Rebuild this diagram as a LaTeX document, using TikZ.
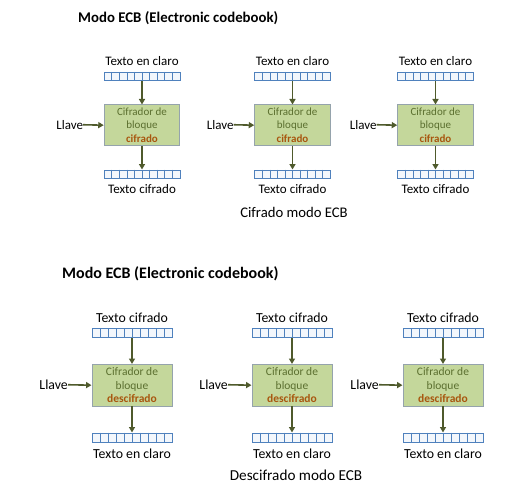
\documentclass[tikz,border=0pt]{standalone}
\usepackage{fontspec}
\setmainfont{Carlito}
\usetikzlibrary{arrows.meta}
\definecolor{boxfill}{HTML}{C4D79B}
\definecolor{boxline}{HTML}{95A3AC}
\definecolor{boxtext}{HTML}{5B6F2F}
\definecolor{modetext}{HTML}{A8560E}
\definecolor{arrowcol}{HTML}{4F5A2C}
\definecolor{regline}{HTML}{4F81BD}
\definecolor{regfill}{HTML}{F3F7FC}
\tikzset{
  lbl/.style={inner sep=0pt, text=black},
  reg/.style={draw=regline, fill=regfill, line width=0.6pt, inner sep=0pt},
  regdiv/.style={draw=regline, line width=0.6pt},
  cbox/.style={draw=boxline, fill=boxfill, line width=0.9pt, inner sep=0pt, align=center, text=boxtext},
  arr/.style={draw=arrowcol, line width=1.6pt, -{Triangle[length=5.5pt,width=6pt]}},
}
\newcommand{\ecbunit}[5]{%
  \pgfmathsetmacro{\ecbw}{2*\ecbhw}%
  \pgfmathsetmacro{\ecbbh}{\ecbyb-\ecbya}%
  \pgfmathsetmacro{\ecbbc}{(\ecbya+\ecbyb)/2}%
  \pgfmathsetmacro{\ecbkx}{#2-\ecbhw-\ecbgap}%
  \node[lbl,font=\ecblblfont] (#1tt) at (#2,\ecbytt) {#3};
  \node[reg,minimum width=\ecbw pt,minimum height=\ecbrh pt,anchor=north] (#1ra) at (#2,\ecbyra) {};
  \foreach \i in {1,...,9}{\draw[regdiv] (#2-\ecbhw+\i*\ecbw/10,\ecbyra) -- ++(0,\ecbrh);}
  \node[cbox,font=\ecbboxfont,minimum width=\ecbw pt,minimum height=\ecbbh pt,anchor=north] (#1b) at (#2,\ecbya) {Cifrador de\\bloque\\\textbf{\color{modetext}#5}};
  \node[reg,minimum width=\ecbw pt,minimum height=\ecbrh pt,anchor=north] (#1rb) at (#2,\ecbyrb) {};
  \foreach \i in {1,...,9}{\draw[regdiv] (#2-\ecbhw+\i*\ecbw/10,\ecbyrb) -- ++(0,\ecbrh);}
  \node[lbl,font=\ecblblfont] (#1bt) at (#2,\ecbybt) {#4};
  \node[lbl,font=\ecblblfont,anchor=east] (#1k) at (\ecbkx,\ecbbc) {Llave};
  \draw[arr] (#1ra.south) -- (#1b.north);
  \draw[arr] (#1b.south) -- (#1rb.north);
  \draw[arr] (#1k.east) -- (#1b.west);
}
\begin{document}
\begin{tikzpicture}[x=1pt,y=-1pt]
\useasboundingbox (0,0) rectangle (528,503);
% ---- top row
\node[lbl,anchor=west,font=\bfseries\fontsize{14.8}{18}\selectfont] (title1) at (78,18) {Modo ECB (Electronic codebook)};
\def\ecbhw{37.8}\def\ecbytt{61.5}\def\ecbyra{72}\def\ecbrh{8}
\def\ecbya{104.5}\def\ecbyb{145}\def\ecbyrb{169.5}\def\ecbybt{189}\def\ecbgap{21}
\def\ecblblfont{\fontsize{13}{15}\selectfont}
\def\ecbboxfont{\fontsize{11}{13.2}\selectfont}
\ecbunit{a}{142}{Texto en claro}{Texto cifrado}{cifrado}
\ecbunit{b}{292.5}{Texto en claro}{Texto cifrado}{cifrado}
\ecbunit{c}{435.5}{Texto en claro}{Texto cifrado}{cifrado}
\node[lbl,font=\fontsize{14.7}{17}\selectfont] (cap1) at (294,212) {Cifrado modo ECB};
% ---- bottom row
\node[lbl,anchor=west,font=\bfseries\fontsize{16}{19}\selectfont] (title2) at (62,274) {Modo ECB (Electronic codebook)};
\def\ecbhw{40}\def\ecbytt{317.5}\def\ecbyra{328}\def\ecbrh{9}
\def\ecbya{364}\def\ecbyb{405.5}\def\ecbyrb{432.5}\def\ecbybt{454}\def\ecbgap{24}
\def\ecblblfont{\fontsize{13.8}{16}\selectfont}
\def\ecbboxfont{\fontsize{11.5}{13.6}\selectfont}
\ecbunit{d}{132}{Texto cifrado}{Texto en claro}{descifrado}
\ecbunit{e}{292}{Texto cifrado}{Texto en claro}{descifrado}
\ecbunit{f}{443}{Texto cifrado}{Texto en claro}{descifrado}
\node[lbl,font=\fontsize{15.2}{18}\selectfont] (cap2) at (296,475) {Descifrado modo ECB};
\end{tikzpicture}
\end{document}
